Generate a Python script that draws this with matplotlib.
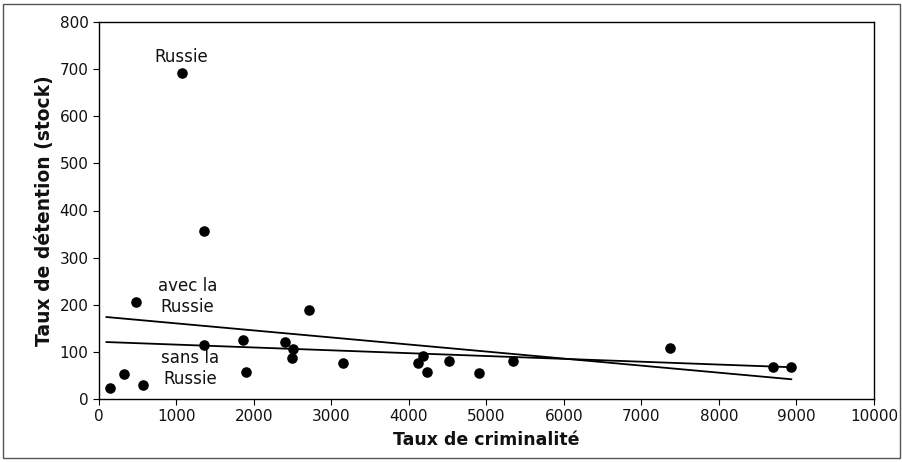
import numpy as np
import matplotlib
matplotlib.use("Agg")
import matplotlib.pyplot as plt
from matplotlib.patches import Rectangle

# Data (crime rate, detention rate)
crime = [1067, 1350, 481, 2708, 1350, 1860, 2404, 2503, 2494, 3149, 4122, 4187,
         4238, 4520, 4902, 317, 146, 570, 1902, 5336, 7369, 8692, 8933]
detention = [692, 356, 205, 189, 114, 125, 122, 106, 87, 77, 77, 91,
             58, 80, 55, 53, 23, 30, 57, 80, 108, 67, 67]
russia_index = 0

x_ticks = [0, 1000, 2000, 3000, 4000, 5000, 6000, 7000, 8000, 9000, 10000]
y_ticks = [0, 100, 200, 300, 400, 500, 600, 700, 800]

plt.rcParams['font.family'] = ['DejaVu Sans']

fig = plt.figure(figsize=(9.03, 4.62), dpi=100)
ax = fig.add_axes([99 / 903, 1 - 399 / 462, 775 / 903, 377 / 462])

x = np.array(crime, dtype=float)
y = np.array(detention, dtype=float)
mask = np.arange(len(x)) != russia_index

ax.scatter(x, y, s=58, color='black', zorder=3, linewidths=0)

# Trend lines
xs = np.array([x.min() - 50, x.max()])
p_all = np.polyfit(x, y, 1)
p_wo = np.polyfit(x[mask], y[mask], 1)
ax.plot(xs, np.polyval(p_all, xs), color='black', lw=1.3)
ax.plot(xs, np.polyval(p_wo, xs), color='black', lw=1.3)

txt = '#111111'
ax.text(crime[russia_index], 725, "Russie", ha='center', va='center', fontsize=12, color=txt)
ax.text(1145, 218, "avec la\nRussie", ha='center', va='center', fontsize=12, linespacing=1.25, color=txt)
ax.text(1177, 65, "sans la\nRussie", ha='center', va='center', fontsize=12, linespacing=1.25, color=txt)

ax.set_xlim(0, 10000)
ax.set_ylim(0, 800)
ax.set_xticks(x_ticks)
ax.set_yticks(y_ticks)
ax.tick_params(labelsize=11, length=4, direction='out', labelcolor=txt)
for s in ax.spines.values():
    s.set_linewidth(1.0)

ax.set_xlabel("Taux de criminalité", fontsize=12.5, fontweight='bold', labelpad=5, color=txt)
ax.set_ylabel("Taux de détention (stock)", fontsize=13.5, fontweight='bold', labelpad=4, color=txt)

fig.patches.append(Rectangle((3 / 903, 4 / 462), 897 / 903, 454 / 462, transform=fig.transFigure,
                             fill=False, edgecolor='#555555', lw=1.0))

fig.savefig("out.png", dpi=100)
